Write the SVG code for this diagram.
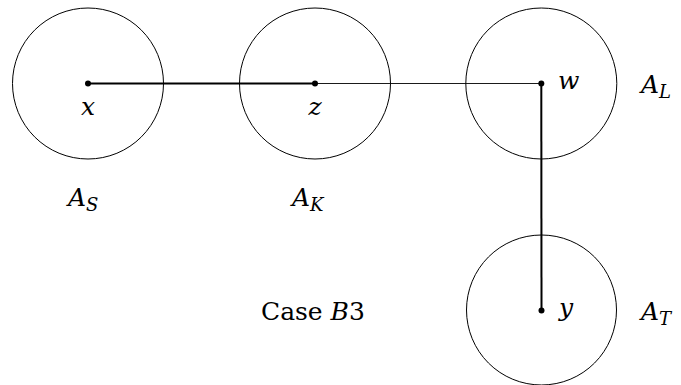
<svg xmlns="http://www.w3.org/2000/svg" width="681" height="385" viewBox="0 0 681 385">
<style>
.c{fill:none;stroke:#000;stroke-width:1}
text{font-family:'DejaVu Serif',serif;font-size:25px;fill:#000}
.i{font-style:italic}
.s{font-size:18px;font-style:italic}
.thick{stroke:#000;stroke-width:2;fill:none}
.thin{stroke:#000;stroke-width:0.9;fill:none}
.d{fill:#000}
</style>
<rect width="681" height="385" fill="#fff"/>
<g id="AS">
<circle class="c" cx="88" cy="83.5" r="75.5"/>
<circle class="d" cx="88" cy="83.5" r="3"/>
<text class="i" x="88" y="115" text-anchor="middle">x</text>
<text x="68" y="206"><tspan class="i">A</tspan><tspan class="s" dy="5">S</tspan></text>
</g>
<g id="AK">
<circle class="c" cx="315" cy="83.5" r="75.5"/>
<circle class="d" cx="315" cy="83.5" r="3"/>
<text class="i" x="315" y="115" text-anchor="middle">z</text>
<text x="292" y="206"><tspan class="i">A</tspan><tspan class="s" dy="5">K</tspan></text>
</g>
<g id="AL">
<circle class="c" cx="541.3" cy="83.5" r="75.5"/>
<circle class="d" cx="541.3" cy="83.5" r="3"/>
<text class="i" x="558" y="89">w</text>
<text x="641" y="93"><tspan class="i">A</tspan><tspan class="s" dy="5">L</tspan></text>
</g>
<g id="AT">
<circle class="c" cx="541.5" cy="310" r="75"/>
<circle class="d" cx="541.5" cy="310.5" r="3"/>
<text class="i" x="559" y="316">y</text>
<text x="641" y="320"><tspan class="i">A</tspan><tspan class="s" dy="5">T</tspan></text>
</g>
<g id="caption">
<text x="261" y="320">Case <tspan class="i">B</tspan>3</text>
</g>
<g id="connectors">
<line class="thick" x1="88" y1="83.5" x2="315" y2="83.5"/>
<line class="thin" x1="315" y1="83.5" x2="541.3" y2="83.5"/>
<line class="thick" x1="541.3" y1="83.5" x2="541.5" y2="310.5"/>
</g>
</svg>
